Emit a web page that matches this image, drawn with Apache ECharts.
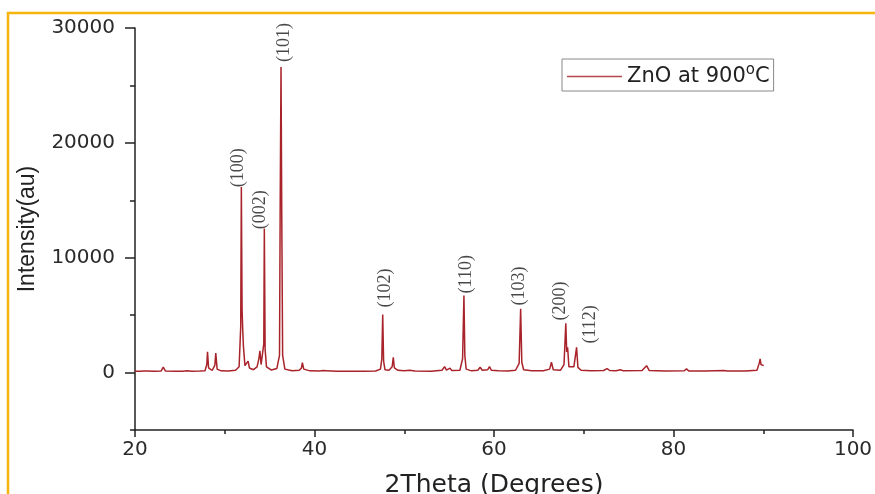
<!DOCTYPE html>
<html><head><meta charset="utf-8">
<script src="https://cdn.jsdelivr.net/npm/echarts@6/dist/echarts.min.js"></script>
<style>html,body{margin:0;padding:0;background:#fff}#c{width:875px;height:494px}</style>
</head><body><div id="c"></div><script>
// 2Theta (degrees) and intensity (au)
const theta = [20.0,20.6,21.0,21.2,21.4,22.2,22.9,23.15,23.4,24.5,25.3,25.8,26.0,26.3,27.2,27.8,28.0,28.08,28.2,28.6,28.9,29.0,29.15,29.6,30.4,31.2,31.6,31.78,31.85,31.93,32.0,32.08,32.25,32.45,32.6,32.75,33.2,33.6,33.8,33.92,34.05,34.2,34.35,34.41,34.5,34.65,35.2,35.8,36.1,36.18,36.27,36.35,36.45,36.7,37.5,38.3,38.55,38.65,38.8,39.5,40.5,41.0,41.3,42.5,44.0,45.5,46.8,47.35,47.5,47.6,47.7,47.85,48.3,48.65,48.78,48.9,49.3,50.0,50.6,51.2,53.0,54.2,54.5,54.7,55.1,55.3,56.2,56.5,56.65,56.75,56.9,57.5,58.2,58.45,58.7,59.3,59.5,59.7,60.5,61.5,62.4,62.8,62.97,63.1,63.3,64.2,65.5,66.2,66.4,66.6,67.4,67.8,68.0,68.1,68.2,68.35,68.9,69.2,69.35,69.7,70.8,72.2,72.6,72.9,73.6,74.1,74.4,76.5,77.0,77.3,79.0,81.2,81.45,81.7,83.5,85.6,86.0,88.0,89.3,89.55,89.65,89.75,89.9,90.05];
const intensity = [120,110,140,300,130,110,130,480,130,110,120,150,200,120,130,160,700,1800,400,180,650,1700,300,150,140,200,500,4000,16150,5500,3800,2300,600,500,1000,400,250,500,1200,1900,700,800,2500,12550,2000,500,220,350,1500,15000,26600,14000,1500,300,160,200,400,870,300,150,130,170,160,120,110,120,140,300,1200,5050,1000,250,200,500,1330,400,200,150,200,130,120,200,520,220,380,170,200,1200,6710,1500,300,150,200,460,200,250,520,200,150,140,200,800,5550,900,250,150,160,300,900,250,200,700,4300,1800,2200,500,500,2200,450,200,150,180,350,180,160,250,150,170,600,170,140,160,320,140,130,180,130,140,200,800,1190,700,800,600];

// Miller index annotations (anchor = bottom of the rotated text)
const peakLabels = ['(100)','(002)','(101)','(102)','(110)','(103)','(200)','(112)'];
const labelTheta = [31.48,33.93,36.60,47.86,56.88,62.79,67.35,70.70];
const labelIntensity = [16130,12470,27030,5670,6890,5840,4530,2530];

const yTicks = [0,10000,20000,30000];
const yMinorTicks = [-5000,5000,15000,25000];
const seriesName = 'ZnO at 900°C';

const chart = echarts.init(document.getElementById('c'));
const lineData = theta.map((t,i)=>[t,intensity[i]]);
const labelData = peakLabels.map((n,i)=>({name:n,value:[labelTheta[i],labelIntensity[i]]}));

const tickFont = {fontFamily:'DejaVu Sans',fontSize:20,color:'#2a2a2a'};
chart.setOption({
  animation:false,
  graphic:[{type:'polyline',shape:{points:[[8,494],[8,13],[875,13]]},style:{stroke:'#f5b50c',lineWidth:2.5,fill:null},z:100}],
  grid:{left:135,right:22,top:28,bottom:64,containLabel:false,outerBoundsMode:'none'},
  legend:{
    data:[{name:seriesName,icon:'rect'}],left:562,top:59,itemWidth:55,itemHeight:1.5,
    padding:[4,4,4,5],borderColor:'#888',borderWidth:1,
    formatter:()=> '{n|ZnO at 900}{s|o}{n|C}',
    textStyle:{fontFamily:'DejaVu Sans',fontSize:21,color:'#222',
      rich:{n:{fontFamily:'DejaVu Sans',fontSize:21,color:'#222'},
            s:{fontFamily:'DejaVu Sans',fontSize:15,color:'#222',verticalAlign:'top',padding:[0,0,12,0]}}}
  },
  xAxis:{
    type:'value',min:20,max:100,interval:20,
    name:'2Theta (Degrees)',nameLocation:'middle',nameGap:43,
    nameTextStyle:{fontFamily:'DejaVu Sans',fontSize:25,color:'#222'},
    axisLine:{onZero:false,lineStyle:{color:'#222',width:1.5}},
    axisTick:{length:7,lineStyle:{color:'#222',width:1.5}},
    minorTick:{show:true,splitNumber:2,length:4,lineStyle:{color:'#222',width:1.5}},
    axisLabel:Object.assign({margin:10},tickFont),
    splitLine:{show:false}
  },
  yAxis:[{
    type:'value',min:-5000,max:30000,interval:5000,
    name:'Intensity(au)',nameLocation:'middle',nameGap:96,
    nameTextStyle:{fontFamily:'Liberation Sans',fontSize:23,color:'#222'},
    axisLine:{show:true,lineStyle:{color:'#222',width:1.5}},
    axisTick:{show:true,length:10,customValues:yTicks,lineStyle:{color:'#222',width:1.5}},
    axisLabel:Object.assign({margin:20,customValues:yTicks,formatter:v=>String(v)},tickFont),
    splitLine:{show:false}
  },{
    type:'value',min:-5000,max:30000,interval:5000,position:'left',offset:0,
    axisLine:{show:false},
    axisTick:{show:true,length:5,customValues:yMinorTicks,lineStyle:{color:'#222',width:1.5}},
    axisLabel:{show:false},splitLine:{show:false}
  }],
  series:[{
    name:seriesName,type:'line',data:lineData,symbol:'none',
    lineStyle:{color:'#a8232a',width:1.5},itemStyle:{color:'#b5474b'}
  },{
    name:'labels',type:'scatter',data:labelData,symbolSize:0,silent:true,
    label:{show:true,formatter:'{b}',position:'inside',rotate:90,align:'left',verticalAlign:'middle',
      fontFamily:'Liberation Serif',fontSize:18,color:'#1a1a1a'}
  }]
});
</script></body></html>
